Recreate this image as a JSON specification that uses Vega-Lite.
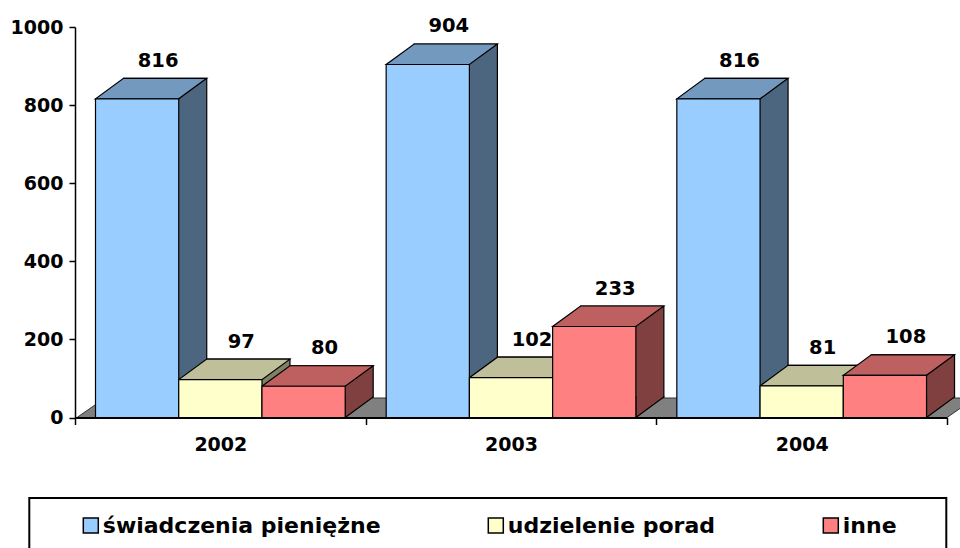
{
  "$schema": "https://vega.github.io/schema/vega-lite/v6.json",
  "autosize": {"type": "none"},
  "padding": {"left": 75, "top": 27, "right": 13, "bottom": 130.5},
  "width": 872,
  "height": 390.5,
  "background": "white",
  "config": {
    "view": {"stroke": null},
    "font": "DejaVu Sans",
    "legend": {"strokeColor": "black", "strokeWidth": 2, "padding": 16.5}
  },
  "data": {
    "values": [
      {"year": "2002", "series": "świadczenia pieniężne", "value": 816},
      {"year": "2002", "series": "udzielenie porad", "value": 97},
      {"year": "2002", "series": "inne", "value": 80},
      {"year": "2003", "series": "świadczenia pieniężne", "value": 904},
      {"year": "2003", "series": "udzielenie porad", "value": 102},
      {"year": "2003", "series": "inne", "value": 233},
      {"year": "2004", "series": "świadczenia pieniężne", "value": 816},
      {"year": "2004", "series": "udzielenie porad", "value": 81},
      {"year": "2004", "series": "inne", "value": 108}
    ]
  },
  "encoding": {
    "x": {
      "field": "year",
      "type": "nominal",
      "scale": {"paddingInner": 0, "paddingOuter": 0},
      "axis": {
        "title": null,
        "labelAngle": 0,
        "labelFont": "DejaVu Sans",
        "labelFontSize": 19,
        "labelFontWeight": "bold",
        "labelColor": "black",
        "labelPadding": 11,
        "tickBand": "extent",
        "tickSize": 7,
        "tickColor": "black",
        "tickWidth": 1.5,
        "domainColor": "black",
        "domainWidth": 2,
        "zindex": 1
      }
    },
    "y": {
      "field": "value",
      "type": "quantitative",
      "scale": {"domain": [0, 1000], "nice": false},
      "axis": {
        "title": null,
        "values": [0, 200, 400, 600, 800, 1000],
        "format": "d",
        "grid": false,
        "labelFont": "DejaVu Sans",
        "labelFontSize": 19,
        "labelFontWeight": "bold",
        "labelColor": "black",
        "labelPadding": 6,
        "tickSize": 6,
        "tickColor": "black",
        "tickWidth": 1.5,
        "domainColor": "black",
        "domainWidth": 1.5,
        "zindex": 1
      }
    }
  },
  "resolve": {"scale": {"xOffset": "independent", "fill": "independent"}},
  "layer": [
    {
      "transform": [{"filter": "datum.year == '2003' && datum.series == 'inne'"}],
      "mark": {
        "type": "point",
        "shape": "M-434,0L436,0L464,-19.5L-406,-19.5Z",
        "size": 4,
        "filled": true,
        "opacity": 1,
        "fill": "#808080",
        "stroke": "#333333",
        "strokeWidth": 1
      },
      "encoding": {"y": {"datum": 0, "type": "quantitative"}}
    },
    {
      "mark": {
        "type": "bar",
        "yOffset": -20.5,
        "y2Offset": -20.5,
        "stroke": "black",
        "strokeWidth": 1.2
      },
      "encoding": {
        "xOffset": {
          "field": "series",
          "type": "nominal",
          "scale": {
            "domain": ["świadczenia pieniężne", "udzielenie porad", "inne"],
            "range": [48.5, 298.2],
            "paddingInner": 0,
            "paddingOuter": 0
          }
        },
        "fill": {
          "field": "series",
          "type": "nominal",
          "scale": {
            "domain": ["świadczenia pieniężne", "udzielenie porad", "inne"],
            "range": ["#4D6680", "#808066", "#804040"]
          },
          "legend": null
        }
      }
    },
    {
      "mark": {
        "type": "point",
        "shape": "M111.2,-21.5L111.2,-20.5L83.2,0L83.2,-21.5",
        "size": 4,
        "filled": true,
        "opacity": 1,
        "stroke": "black",
        "strokeWidth": 1.2
      },
      "encoding": {
        "y": {"datum": 0, "type": "quantitative"},
        "xOffset": {
          "field": "series",
          "type": "nominal",
          "scale": {
            "domain": ["świadczenia pieniężne", "udzielenie porad", "inne"],
            "range": [20.5, 186.96],
            "padding": 0
          }
        },
        "fill": {
          "field": "series",
          "type": "nominal",
          "scale": {
            "domain": ["świadczenia pieniężne", "udzielenie porad", "inne"],
            "range": ["#4D6680", "#808066", "#804040"]
          },
          "legend": null
        }
      }
    },
    {
      "mark": {
        "type": "point",
        "shape": "M0,0L83.2,0L111.2,-20.5L28,-20.5Z",
        "size": 4,
        "filled": true,
        "opacity": 1,
        "stroke": "black",
        "strokeWidth": 1.2
      },
      "encoding": {
        "xOffset": {
          "field": "series",
          "type": "nominal",
          "scale": {
            "domain": ["świadczenia pieniężne", "udzielenie porad", "inne"],
            "range": [20.5, 186.96],
            "padding": 0
          }
        },
        "fill": {
          "field": "series",
          "type": "nominal",
          "scale": {
            "domain": ["świadczenia pieniężne", "udzielenie porad", "inne"],
            "range": ["#7399BF", "#BFBF99", "#BF6060"]
          },
          "legend": null
        }
      }
    },
    {
      "mark": {"type": "bar", "stroke": "black", "strokeWidth": 1.2},
      "encoding": {
        "xOffset": {
          "field": "series",
          "type": "nominal",
          "scale": {
            "domain": ["świadczenia pieniężne", "udzielenie porad", "inne"],
            "range": [20.5, 270.2],
            "paddingInner": 0,
            "paddingOuter": 0
          }
        },
        "color": {
          "field": "series",
          "type": "nominal",
          "scale": {
            "domain": ["świadczenia pieniężne", "udzielenie porad", "inne"],
            "range": ["#99CCFF", "#FFFFCC", "#FF8080"]
          },
          "legend": {
            "orient": "none",
            "legendX": -45.7,
            "legendY": 471,
            "direction": "horizontal",
            "columns": 3,
            "title": " ",
            "titleOrient": "right",
            "titlePadding": 33,
            "titleFontSize": 4,
            "labelFont": "DejaVu Sans",
            "labelFontSize": 22,
            "labelFontWeight": "bold",
            "labelColor": "black",
            "labelOffset": 1,
            "labelLimit": 400,
            "symbolType": "square",
            "symbolSize": 225,
            "symbolStrokeColor": "black",
            "symbolStrokeWidth": 1.5,
            "symbolOffset": 34,
            "columnPadding": 70,
            "padding": 16.5,
            "strokeColor": "black"
          }
        }
      }
    },
    {
      "mark": {
        "type": "text",
        "dx": 62.6,
        "dy": -32,
        "baseline": "alphabetic",
        "align": "center",
        "font": "DejaVu Sans",
        "fontSize": 19.5,
        "fontWeight": "bold",
        "color": "black"
      },
      "encoding": {
        "xOffset": {
          "field": "series",
          "type": "nominal",
          "scale": {
            "domain": ["świadczenia pieniężne", "udzielenie porad", "inne"],
            "range": [20.5, 186.96],
            "padding": 0
          }
        },
        "text": {"field": "value", "type": "quantitative"}
      }
    }
  ]
}
